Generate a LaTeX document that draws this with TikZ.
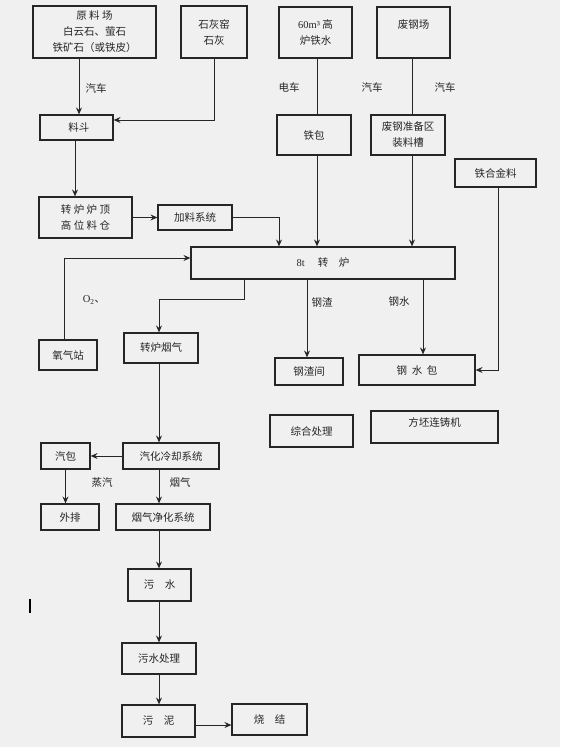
\documentclass[tikz,border=0pt]{standalone}
\usepackage{fontspec}
\setmainfont{Noto Sans CJK SC}
\newfontfamily\latn{Liberation Serif}
\usetikzlibrary{arrows.meta, positioning}
\definecolor{pageGray}{HTML}{F0F0F0}
\definecolor{lineDark}{HTML}{262626}

\begin{document}
\begin{tikzpicture}[x=1pt, y=-1pt, font=\fontsize{10.5}{16}\selectfont,
    box/.style={rectangle, draw=lineDark, line width=1.2pt, inner sep=1pt,
      align=center, text=lineDark},
    arr/.style={-{Stealth[length=7pt, width=6pt, inset=2.5pt]}, draw=lineDark, line width=0.9pt},
    lnk/.style={draw=lineDark, line width=0.9pt},
    tag/.style={inner sep=0pt, text=lineDark}]
  \fill[pageGray] (0,0) rectangle (560,747);
  \useasboundingbox (0,0) rectangle (560,747);

  % raw materials
  \node[box, minimum width=123pt, minimum height=52pt] (yard) at (94.5,32)
    {原\ 料\ 场\\白云石、萤石\\铁矿石（或铁皮）};
  \node[box, minimum width=66pt, minimum height=52pt] (kiln) at (214,32)
    {石灰窑\\石灰};
  \node[box, minimum width=73pt, minimum height=51pt] (hotmetal) at (315.5,32.5)
    {{\latn 60m³} 高\\炉铁水};
  \node[box, minimum width=73pt, minimum height=51pt] (scrapyard) at (413.5,32.5)
    {废钢场\\\mbox{}};
  \node[box, minimum width=73pt, minimum height=25pt] (hopper) at (76.5,127.5) {\ \ 料斗};
  \node[box, minimum width=74pt, minimum height=40pt] (ladle) at (314,135) {铁包};
  \node[box, minimum width=74pt, minimum height=40pt] (scrapbin) at (408,135)
    {废钢准备区\\装料槽};
  \node[box, minimum width=81pt, minimum height=28pt] (alloy) at (495.5,173) {铁合金料};
  \node[box, minimum width=93pt, minimum height=41pt] (bunker) at (85.5,217.5)
    {转\ 炉\ 炉\ 顶\\高\ 位\ 料\ 仓};
  \node[box, minimum width=74pt, minimum height=25pt] (feed) at (195,217.5) {加料系统};

  % converter and products
  \node[box, minimum width=264pt, minimum height=32pt] (conv) at (323,263)
    {{\latn 8t}\quad\ 转\quad 炉};
  \node[box, minimum width=58pt, minimum height=30pt] (oxygen) at (68,355) {氧气站};
  \node[box, minimum width=74pt, minimum height=30pt] (fumes) at (161,348) {转炉烟气};
  \node[box, minimum width=68pt, minimum height=27pt] (slagbay) at (309,371.5) {钢渣间};
  \node[box, minimum width=116pt, minimum height=30pt] (steelladle) at (417,370)
    {钢\ \ 水\ \ 包};
  \node[box, minimum width=83pt, minimum height=32pt] (treat) at (311.5,431) {综合处理};
  \node[box, minimum width=127pt, minimum height=32pt] (caster) at (434.5,427)
    {方坯连铸机\\[-6pt]\mbox{}};

  % gas and water line
  \node[box, minimum width=49pt, minimum height=26pt] (drum) at (65.5,456) {汽包};
  \node[box, minimum width=96pt, minimum height=26pt] (cooling) at (171,456) {汽化冷却系统};
  \node[box, minimum width=58pt, minimum height=26pt] (vent) at (70,517) {外排};
  \node[box, minimum width=94pt, minimum height=26pt] (cleaning) at (163,517) {烟气净化系统};
  \node[box, minimum width=63pt, minimum height=32pt] (sewage) at (159.5,585) {污\quad 水};
  \node[box, minimum width=74pt, minimum height=31pt] (wwt) at (159,658.5) {污水处理};
  \node[box, minimum width=73pt, minimum height=32pt] (sludge) at (158.5,721) {污\quad 泥};
  \node[box, minimum width=75pt, minimum height=31pt] (sinter) at (269.5,719.5) {烧\quad 结};

  % transport labels
  \node[tag] (lbTruckA) at (96,88) {汽车};
  \node[tag] (lbTram) at (289,87) {电车};
  \node[tag] (lbTruckB) at (372,87) {汽车};
  \node[tag] (lbTruckC) at (445,87) {汽车};
  \node[tag] (lbOxy) at (94,300) {{\latn O\textsubscript{2}}、};
  \node[tag] (lbSlag) at (322,302) {钢渣};
  \node[tag] (lbSteel) at (399,302) {钢水};
  \node[tag] (lbSteam) at (102,483) {蒸汽};
  \node[tag] (lbGas) at (180,483) {烟气};

  % feed side
  \draw[arr] (yard.south -| 79,0) -- (hopper.north -| 79,0);
  \draw[arr] (kiln.south) |- (hopper.east |- 0,120);
  \draw[arr] (hopper.south -| 75,0) -- (bunker.north -| 75,0);
  \draw[arr] (bunker.east |- feed.west) -- (feed.west);
  \draw[arr] (feed.east) -| (conv.north -| 279,0);
  \draw[lnk] (hotmetal.south -| 317,0) -- (ladle.north -| 317,0);
  \draw[arr] (ladle.south -| 317,0) -- (conv.north -| 317,0);
  \draw[lnk] (scrapyard.south -| 412,0) -- (scrapbin.north -| 412,0);
  \draw[arr] (scrapbin.south -| 412,0) -- (conv.north -| 412,0);
  \draw[arr] (alloy.south -| 498,0) |- (steelladle.east);
  \draw[arr] (oxygen.north -| 64,0) |- (conv.west |- 0,258);

  % converter outputs
  \draw[arr] (conv.south -| 244,0) |- (159,299) -- (fumes.north -| 159,0);
  \draw[arr] (conv.south -| 307,0) -- (slagbay.north -| 307,0);
  \draw[arr] (conv.south -| 423,0) -- (steelladle.north -| 423,0);
  \draw[arr] (fumes.south -| 159,0) -- (cooling.north -| 159,0);
  \draw[arr] (cooling.west) -- (drum.east);
  \draw[arr] (drum.south) -- (vent.north -| drum.south);
  \draw[arr] (cooling.south -| 159,0) -- (cleaning.north -| 159,0);
  \foreach \a/\b in {cleaning/sewage, sewage/wwt, wwt/sludge}
    \draw[arr] (\a.south -| 159,0) -- (\b.north -| 159,0);
  \draw[arr] (sludge.east |- 0,725) -- (sinter.west |- 0,725);

  % stray mark
  \draw[line width=2pt, draw=black] (30,599) -- (30,613);
\end{tikzpicture}
\end{document}
